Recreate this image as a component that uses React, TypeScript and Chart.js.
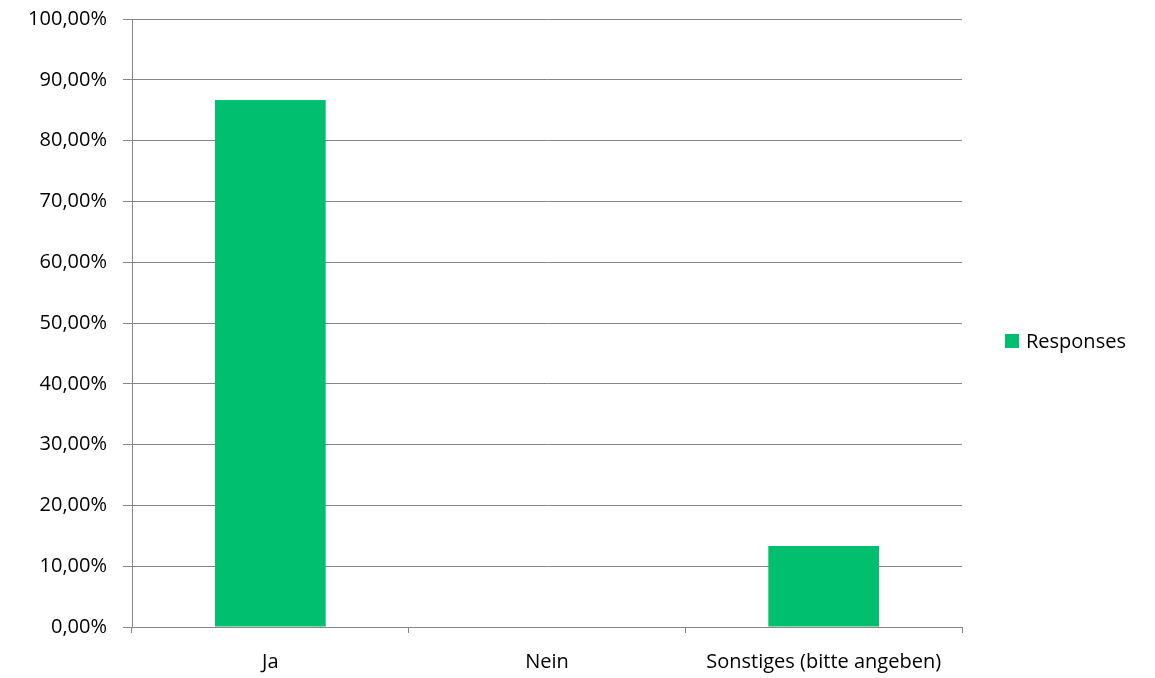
import React, { useEffect, useRef } from "react";
import { Chart, registerables } from "chart.js";

Chart.register(...registerables);

const categories = ["Ja", "Nein", "Sonstiges (bitte angeben)"];
const responses = [0.8667, 0, 0.1333];
const seriesLabel = "Responses";
const barColor = "#00BF6F";
const gridColor = "#868686";
const fontFamily = "'Open Sans', 'Noto Sans', sans-serif";
const fontSize = 20;

const legendPlugin = {
  id: "sideLegend",
  afterDraw(chart: any) {
    const ctx = chart.ctx;
    const ds = chart.data.datasets[0];
    const area = chart.chartArea;
    const cy = 341;
    const x = area.right + 43;
    ctx.save();
    ctx.fillStyle = ds.backgroundColor;
    ctx.fillRect(x, cy - 7, 14, 14);
    ctx.fillStyle = "#000";
    ctx.font = `${fontSize}px ${fontFamily}`;
    ctx.textBaseline = "middle";
    ctx.textAlign = "left";
    ctx.fillText(ds.label, x + 21, cy + 1);
    ctx.restore();
  },
};

export default function App() {
  const ref = useRef<HTMLCanvasElement>(null);
  useEffect(() => {
    if (!ref.current) return;
    const chart = new Chart(ref.current, {
      type: "bar",
      data: {
        labels: categories,
        datasets: [
          {
            label: seriesLabel,
            data: responses,
            backgroundColor: barColor,
            barPercentage: 1,
            categoryPercentage: 0.4,
          },
        ],
      },
      options: {
        responsive: false,
        animation: false,
        layout: { padding: { top: 19, right: 193, left: 0, bottom: 0 } },
        plugins: { legend: { display: false }, tooltip: { enabled: false } },
        scales: {
          x: {
            grid: {
              display: true,
              drawOnChartArea: false,
              drawTicks: true,
              tickLength: 6,
              color: gridColor,
            },
            border: { display: true, color: gridColor },
            ticks: {
              color: "#000",
              padding: 17,
              font: { family: fontFamily, size: fontSize },
              maxRotation: 0,
            },
            afterFit: (s: any) => {
              s.height = 51;
              s.paddingLeft = 0;
              s.paddingRight = 0;
            },
          },
          y: {
            min: 0,
            max: 1,
            grid: { color: gridColor, tickLength: 9 },
            border: { display: true, color: gridColor },
            ticks: {
              stepSize: 0.1,
              color: "#000",
              padding: 16,
              font: { family: fontFamily, size: fontSize },
              callback: (v: any) => (Number(v) * 100).toFixed(2).replace(".", ",") + "%",
            },
            afterFit: (s: any) => {
              s.width = 132;
              s.paddingTop = 0;
              s.paddingBottom = 0;
            },
          },
        },
      },
      plugins: [legendPlugin],
    });
    return () => chart.destroy();
  }, []);
  return (
    <div style={{ position: "absolute", left: 0, top: 0, width: 1155, height: 678, background: "#fff" }}>
      <canvas ref={ref} width={1155} height={678} style={{ display: "block" }} />
    </div>
  );
}
